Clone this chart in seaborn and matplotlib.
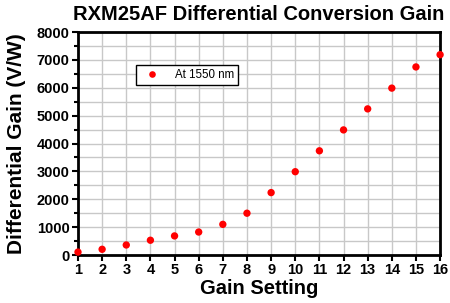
import numpy as np
import pandas as pd
import seaborn as sns
import matplotlib
matplotlib.use("Agg")
import matplotlib.pyplot as plt
from matplotlib.ticker import MultipleLocator

# data
gain_setting = [1, 2, 3, 4, 5, 6, 7, 8, 9, 10, 11, 12, 13, 14, 15, 16]
diff_gain = [105, 205, 360, 530, 685, 825, 1100, 1500, 2240, 2990, 3740,
             4490, 5245, 5990, 6750, 7190]
series_label = "At 1550 nm"

df = pd.DataFrame({"Gain Setting": gain_setting, "Gain": diff_gain,
                   "Series": series_label})

sns.set_style("white")
plt.rcParams['font.family'] = ['Liberation Sans', 'DejaVu Sans']
plt.rcParams['text.color'] = 'black'
plt.rcParams['axes.labelcolor'] = 'black'
plt.rcParams['xtick.color'] = 'black'
plt.rcParams['ytick.color'] = 'black'

fig = plt.figure(figsize=(4.5, 3.03), dpi=100)
ax = fig.add_axes([0.1733, 0.1584, 0.8047, 0.7356])

sns.scatterplot(data=df, x="Gain Setting", y="Gain", hue="Series",
                palette=["#ff0000"], marker="o", s=28, edgecolor="#ff0000",
                linewidth=0, ax=ax, clip_on=False, zorder=3)

ax.set_xlim(1, 16)
ax.set_ylim(0, 8000)
ax.xaxis.set_major_locator(MultipleLocator(1))
ax.yaxis.set_major_locator(MultipleLocator(1000))
ax.yaxis.set_minor_locator(MultipleLocator(500))

ax.grid(True, which="both", color="#c8c8c8", linewidth=1)
ax.set_axisbelow(True)
for s in ax.spines.values():
    s.set_linewidth(2)
    s.set_color("black")

ax.tick_params(axis="both", which="major", direction="out", length=4,
               width=1.5, labelsize=10.5, pad=2, left=True, bottom=True,
               colors="black")
ax.tick_params(axis="y", which="minor", direction="out", length=3,
               width=1.5, left=True)
for lab in ax.get_xticklabels() + ax.get_yticklabels():
    lab.set_fontweight("bold")

ax.set_xlabel("Gain Setting", fontsize=14.5, fontweight="bold", labelpad=1)
ax.set_ylabel("Differential Gain (V/W)", fontsize=15, fontweight="bold",
              labelpad=8)
ax.set_title("RXM25AF Differential Conversion Gain", fontsize=14.5,
             fontweight="bold", pad=9)

leg = ax.legend(loc="upper left", bbox_to_anchor=(0.145, 0.88), fontsize=8.3,
                frameon=True, fancybox=False, framealpha=1, borderpad=0.35,
                handletextpad=1.0, markerscale=0.9)
leg.get_frame().set_edgecolor("black")
leg.get_frame().set_linewidth(1)

fig.savefig("out.png", dpi=100)
